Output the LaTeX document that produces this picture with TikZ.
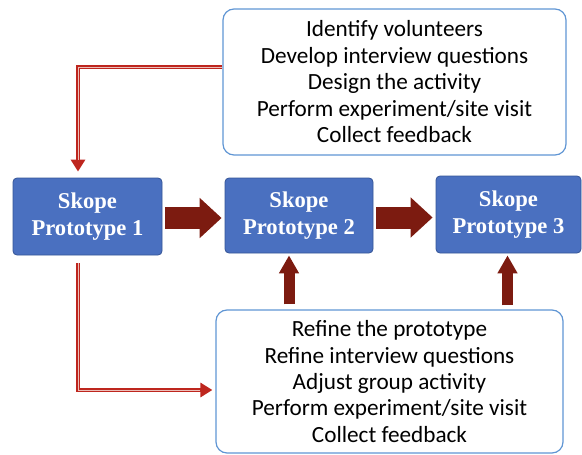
\documentclass[tikz,border=0pt]{standalone}
\usepackage{fontspec}
\setmainfont{Carlito}
\newfontfamily\boxfont{Liberation Serif}
\usetikzlibrary{arrows.meta,calc}
\definecolor{protoblue}{RGB}{74,112,192}
\definecolor{protoedge}{RGB}{52,84,150}
\definecolor{notesedge}{RGB}{96,150,212}
\definecolor{fatred}{RGB}{124,27,16}
\definecolor{thinred}{RGB}{190,38,30}
\definecolor{thinpale}{RGB}{236,190,184}
\tikzset{
  proto/.style={draw=protoedge, line width=0.8pt, fill=protoblue, rounded corners=4pt,
    text=white, font=\boxfont\bfseries\fontsize{22.6}{26.5}\selectfont, align=center,
    inner sep=0pt},
  notes/.style={draw=notesedge, line width=1.2pt, fill=white, rounded corners=11pt,
    font=\fontsize{23.2}{26.4}\selectfont, align=center, inner sep=0pt},
  fatarrow/.style={fatred, line width=22pt,
    -{Triangle[length=22pt,width=39pt]}},
  fatup/.style={fatred, line width=11pt,
    -{Triangle[length=18pt,width=19pt]}},
  thinarrow/.style={thinred, line width=4.5pt, -{Triangle[length=12pt,width=14pt]}},
  thincore/.style={thinpale, line width=1pt, shorten >=12pt},
}
\begin{document}
\begin{tikzpicture}[x=1pt,y=-1pt]
\useasboundingbox (0,0) rectangle (582,455);

% feedback boxes
\node[notes, minimum width=343pt, minimum height=146pt] (top) at (394.5,82)
  {\raisebox{-2.5pt}[\height][\depth]{\begin{tabular}{@{}c@{}}Identify volunteers\\Develop interview questions\\Design the activity\\Perform experiment/site visit\\Collect feedback\end{tabular}}};
\node[notes, minimum width=347pt, minimum height=143pt] (bot) at (389.5,381.5)
  {Refine the prototype\\Refine interview questions\\Adjust group activity\\Perform experiment/site visit\\Collect feedback};

% prototype boxes
\node[proto, minimum width=149pt, minimum height=77pt] (b1) at (87.5,216.5) {Skope\\Prototype 1};
\node[proto, minimum width=148pt, minimum height=75pt] (b2) at (299,215.5) {Skope\\Prototype 2};
\node[proto, minimum width=145pt, minimum height=77pt] (b3) at (508.5,214.5) {Skope\\Prototype 3};

% progression arrows
\draw[fatarrow, shorten <=3pt, shorten >=3pt] (b1.east |- 0,218) -- (b2.west |- 0,218);
\draw[fatarrow, shorten <=3pt, shorten >=3pt] (b2.east |- 0,217.5) -- (b3.west |- 0,217.5);

% refinements feeding the later prototypes
\draw[fatup, shorten <=5pt, shorten >=2pt] ([xshift=-10pt]b2.south |- bot.north) -- ([xshift=-10pt]b2.south);
\draw[fatup, shorten <=4pt, shorten >=2pt] ([xshift=-1pt]b3.south |- bot.north) -- ([xshift=-1pt]b3.south);

% planning steps lead into the first prototype
\draw[thinarrow, shorten >=6pt] (top.west |- 0,67) -| ([xshift=-9.5pt]b1.north);
\draw[thincore, shorten >=18pt] (top.west |- 0,67) -| ([xshift=-9.5pt]b1.north);

% first prototype leads into the refinement step
\draw[thinarrow, shorten <=8pt] ([xshift=-9.5pt]b1.south) |- ([shift={(-3,8.5)}]bot.west);
\draw[thincore, shorten <=8pt] ([xshift=-9.5pt]b1.south) |- ([shift={(-3,8.5)}]bot.west);
\end{tikzpicture}
\end{document}
